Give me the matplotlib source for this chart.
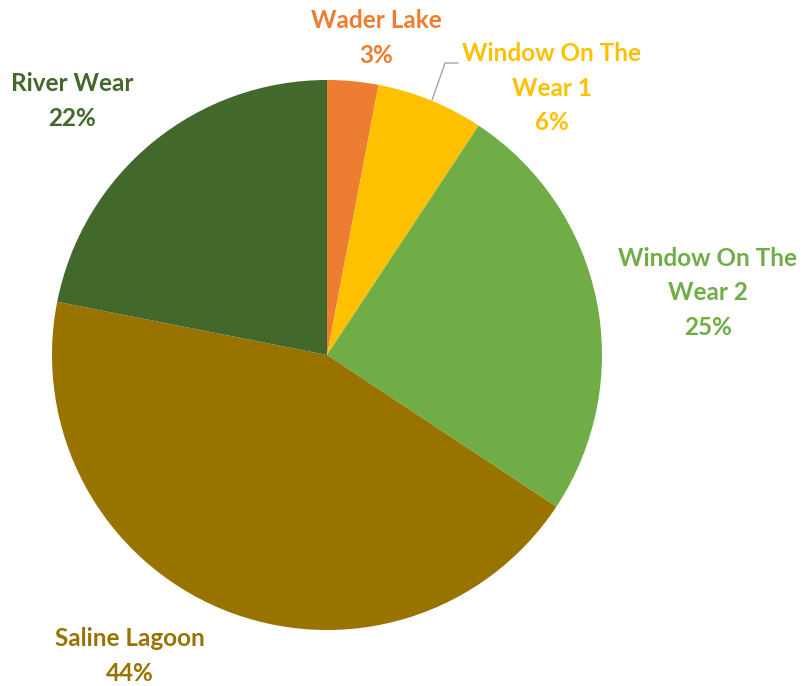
import matplotlib
matplotlib.use("Agg")
import matplotlib.pyplot as plt

labels = ["Wader Lake", "Window On The Wear 1", "Window On The Wear 2", "Saline Lagoon", "River Wear"]
values = [3.0, 6.3, 25.0, 43.8, 21.9]
colors = ["#ED7D31", "#FFC000", "#70AD47", "#997300", "#43682B"]
label_text = ["Wader Lake\n3%", "Window On The\nWear 1\n6%", "Window On The\nWear 2\n25%",
              "Saline Lagoon\n44%", "River Wear\n22%"]

W, H = 804, 686
cx, cy, R = 327, 355, 275
fig = plt.figure(figsize=(W / 100, H / 100), dpi=100)
ax = fig.add_axes([(cx - R) / W, (H - cy - R) / H, 2 * R / W, 2 * R / H])
ax.pie(values, colors=colors, startangle=90, counterclock=False, radius=1,
       wedgeprops=dict(linewidth=0))
ax.set_xlim(-1, 1)
ax.set_ylim(-1, 1)
ax.set_aspect("equal")
ax.axis("off")

def px(x, y):
    return (x - cx) / R, (cy - y) / R

label_pos = [(376, 38), (552, 88), (708, 293), (130, 656), (72, 101)]
for txt, (x, y), c in zip(label_text, label_pos, colors):
    dx, dy = px(x, y)
    ax.text(dx, dy, txt, ha="center", va="center", color=c, fontsize=17.5,
            fontweight="bold", family="Lato", linespacing=1.6, clip_on=False)

# leader line for Window On The Wear 1
pts = [px(432, 100), px(445, 63), px(458, 63)]
ax.plot([p[0] for p in pts], [p[1] for p in pts], color="#A6A6A6", lw=1, clip_on=False)

fig.savefig("out.png", dpi=100)
